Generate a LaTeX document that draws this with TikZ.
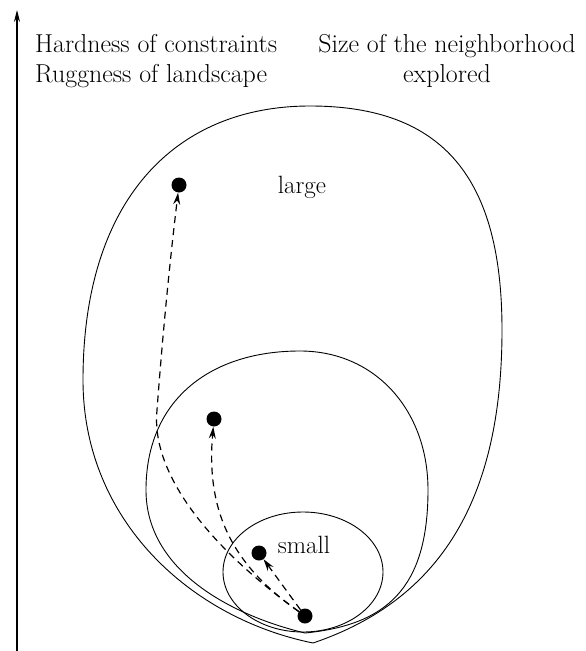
\documentclass[tikz,border=0pt]{standalone}
\usetikzlibrary{arrows.meta}
\begin{document}
\begin{tikzpicture}[x=1pt,y=-1pt,
  curve/.style={line width=0.9pt},
  dot/.style={circle,fill=black,inner sep=0pt,minimum size=15pt},
  move/.style={dashed,dash pattern=on 7pt off 5pt,line width=1.2pt,-{Stealth[length=12pt,width=7pt,inset=4pt]}},
  lbl/.style={font=\fontsize{25.9}{31}\selectfont,inner sep=0pt},
  tag/.style={font=\fontsize{25}{30}\selectfont,inner sep=0pt}]
\useasboundingbox (0,0) rectangle (586,651);
% axis
\coordinate (axb) at (17,651);
\coordinate (axt) at (17,10);
\draw[line width=1.1pt,-{Stealth[length=12pt,width=6pt]}] (axb) -- (axt);
% texts
\node[lbl,anchor=base west] (h1) at (35,52) {Hardness of constraints};
\node[lbl,anchor=base west] (h2) at (35,82) {Ruggness of landscape};
\node[lbl,anchor=base] (s1) at (447,52) {Size of the neighborhood};
\node[lbl,anchor=base] (s2) at (447,82) {explored};
% outer region
\draw[curve] (313,643) .. controls (190,618) and (83,520) .. (83,380)
  .. controls (83,200) and (175,106) .. (310,106)
  .. controls (445,106) and (502,180) .. (502,330)
  .. controls (502,500) and (440,600) .. (313,643);
% middle region
\draw[curve] (305,633) .. controls (230,615) and (146,570) .. (146,490)
  .. controls (146,400) and (210,351) .. (300,351)
  .. controls (375,351) and (428,410) .. (428,490)
  .. controls (428,590) and (385,625) .. (305,633);
% inner region
\draw[curve] (303,572) ellipse[x radius=80,y radius=60];
% labels
\node[tag,anchor=base] (large) at (302,193) {large};
\node[tag,anchor=base] (small) at (304,553) {small};
% dots
\node[dot] (d0) at (305,616) {};
\node[dot] (d1) at (259,553) {};
\node[dot] (d2) at (214,419) {};
\node[dot] (d3) at (179,185) {};
% moves
\draw[move] (d0) -- (d1);
\draw[move] (d0) .. controls (240,570) and (205,520) .. (d2);
\draw[move] (d0) .. controls (200,540) and (151,468) .. (157,410) .. controls (163,330) and (170,260) .. (d3);
\end{tikzpicture}
\end{document}
